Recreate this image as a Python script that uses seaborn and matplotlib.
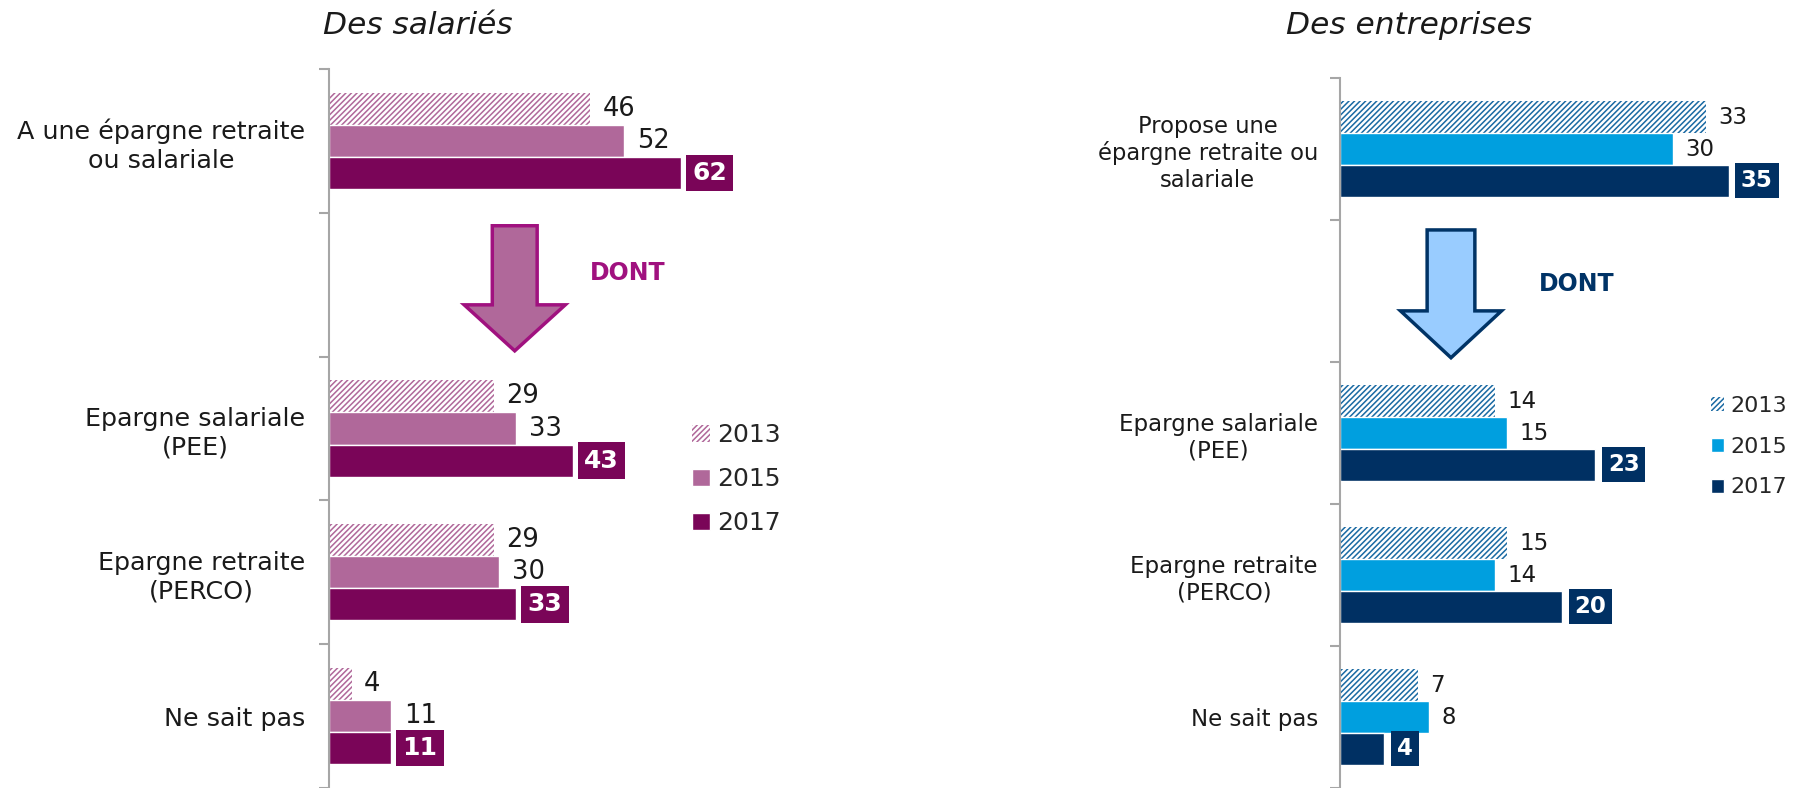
import matplotlib
matplotlib.use('Agg')
import matplotlib.pyplot as plt
import seaborn as sns
import pandas as pd
from matplotlib.patches import FancyArrow

# ---- data ----
years = ['2013', '2015', '2017']

sal_categories = ['A une épargne retraite\nou salariale', 'Epargne salariale\n(PEE)',
                  'Epargne retraite\n(PERCO)', 'Ne sait pas']
sal_2013 = [46, 29, 29, 4]
sal_2015 = [52, 33, 30, 11]
sal_2017 = [62, 43, 33, 11]

ent_categories = ['Propose une\népargne retraite ou\nsalariale', 'Epargne salariale\n(PEE)',
                  'Epargne retraite\n(PERCO)', 'Ne sait pas']
ent_2013 = [33, 14, 15, 7]
ent_2015 = [30, 15, 14, 8]
ent_2017 = [35, 23, 20, 4]

sal_colors = ['#B0689A', '#B0689A', '#7A0558']
ent_colors = ['#1A6AA3', '#009FDF', '#003063']

sns.set_theme(style='white')
plt.rcParams['font.family'] = ['DejaVu Sans']
plt.rcParams['hatch.linewidth'] = 1.1

fig = plt.figure(figsize=(17.93, 7.88), dpi=100)
ax_sal = fig.add_axes([329 / 1793, 0, 426 / 1793, 719 / 788])
ax_ent = fig.add_axes([1340 / 1793, 0, 444 / 1793, 710 / 788])


def draw_panel(ax, categories, v13, v15, v17, colors, xmax, cat_size, val_size, box_size,
               label_pad, val_pad, box_pad, linespacing):
    order = [categories[0], ' '] + categories[1:]
    df = pd.DataFrame({
        'cat': categories * 3,
        'year': [y for y in years for _ in categories],
        'value': v13 + v15 + v17,
    })
    sns.barplot(data=df, y='cat', x='value', hue='year', order=order, hue_order=years,
                palette=dict(zip(years, colors)), width=0.67, orient='h', saturation=1,
                errorbar=None, legend=False, ax=ax)

    # 2013 = hatched bars
    for bar in ax.containers[0]:
        bar.set_facecolor('white')
        bar.set_edgecolor(colors[0])
        bar.set_hatch('//////')
        bar.set_linewidth(0)

    # value labels
    for cont, yr in zip(ax.containers, years):
        if yr == '2017':
            ax.bar_label(cont, padding=box_pad, fontsize=box_size, fontweight='bold',
                         color='white',
                         bbox=dict(boxstyle='square,pad=0.25', fc=colors[2], ec='none'))
        else:
            ax.bar_label(cont, padding=val_pad, fontsize=val_size, color='#1a1a1a')

    ax.set_xlim(0, xmax)
    ax.set_ylim(4.5, -0.5)
    ax.xaxis.set_visible(False)
    ax.set_ylabel('')
    for side in ['top', 'right', 'bottom']:
        ax.spines[side].set_visible(False)
    ax.spines['left'].set_color('#A6A6A6')
    ax.spines['left'].set_linewidth(1.5)

    ax.set_yticks(range(len(order)))
    ax.set_yticklabels(order, fontsize=cat_size, color='#1a1a1a')
    for t in ax.get_yticklabels():
        t.set_multialignment('center')
        t.set_linespacing(linespacing)
    ax.set_yticks([i - 0.5 for i in range(len(order) + 1)], minor=True)
    ax.tick_params(axis='y', which='major', length=0, pad=label_pad)
    ax.tick_params(axis='y', which='minor', length=7, width=1.5, color='#A6A6A6', left=True)

    return [cont.patches[0] for cont in ax.containers]


h_sal = draw_panel(ax_sal, sal_categories, sal_2013, sal_2015, sal_2017, sal_colors,
                   xmax=75, cat_size=18.3, val_size=18.5, box_size=18, label_pad=17,
                   val_pad=9, box_pad=8, linespacing=1.25)
h_ent = draw_panel(ax_ent, ent_categories, ent_2013, ent_2015, ent_2017, ent_colors,
                   xmax=40, cat_size=16.5, val_size=16.5, box_size=16.5, label_pad=16,
                   val_pad=9, box_pad=9, linespacing=1.2)
ax_ent.get_yticklabels()[0].set_fontsize(16.3)

# legends
ax_sal.legend(h_sal, years, loc='center left', bbox_to_anchor=(0.386, 0.392),
              bbox_transform=fig.transFigure, frameon=False, fontsize=18,
              handlelength=0.7, handleheight=0.7, handletextpad=0.3,
              labelspacing=0.8, borderpad=0, borderaxespad=0)
ax_ent.legend(h_ent, years, loc='center left', bbox_to_anchor=(0.954, 0.433),
              bbox_transform=fig.transFigure, frameon=False, fontsize=16,
              handlelength=0.6, handleheight=0.6, handletextpad=0.3,
              labelspacing=0.93, borderpad=0, borderaxespad=0)

# "DONT" arrows
ax_sal.add_patch(FancyArrow(32.7, 0.59, 0, 0.87, width=7.9, head_width=17.8, head_length=0.32,
                            length_includes_head=True, fc='#B0689A', ec='#A0117F', lw=2.5,
                            joinstyle='miter'))
ax_sal.text(52.6, 0.92, 'DONT', fontsize=17, fontweight='bold', color='#A0117F',
            ha='center', va='center')
ax_ent.add_patch(FancyArrow(10.0, 0.57, 0, 0.90, width=4.3, head_width=9.1, head_length=0.33,
                            length_includes_head=True, fc='#99CCFF', ec='#003366', lw=2.5,
                            joinstyle='miter'))
ax_ent.text(21.3, 0.95, 'DONT', fontsize=17, fontweight='bold', color='#003366',
            ha='center', va='center')

# titles
fig.text(418 / 1793, 1 - 25 / 788, 'Des salariés', fontsize=22.5, style='italic',
         ha='center', va='center', color='#1a1a1a')
fig.text(1409 / 1793, 1 - 25 / 788, 'Des entreprises', fontsize=22.5, style='italic',
         ha='center', va='center', color='#1a1a1a')

fig.savefig('out.png', dpi=100)
